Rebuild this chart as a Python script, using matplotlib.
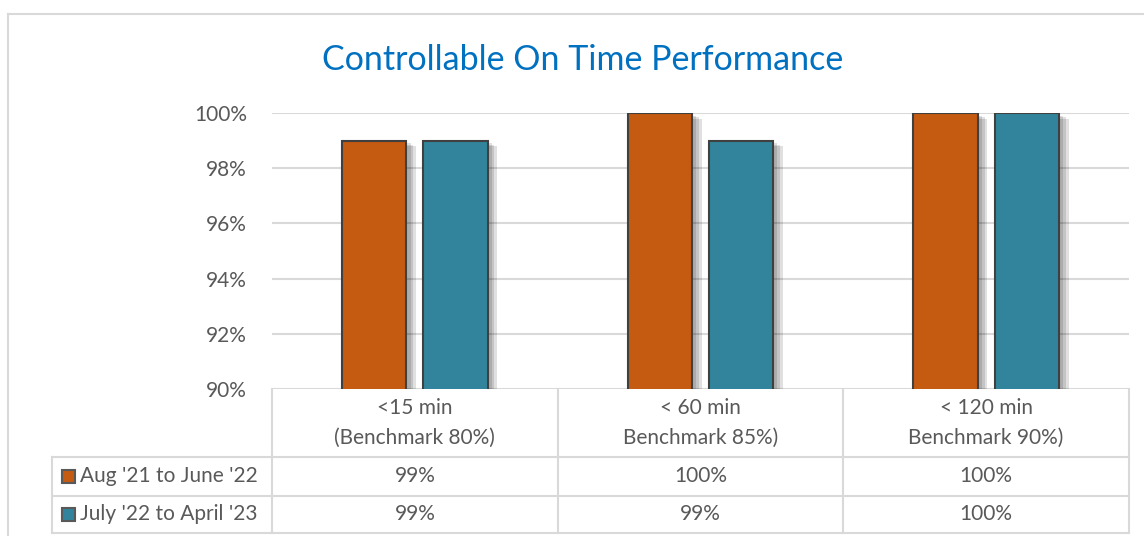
import matplotlib.pyplot as plt
import matplotlib.patheffects as pe
from matplotlib.patches import Rectangle
from matplotlib.lines import Line2D
from matplotlib.transforms import blended_transform_factory

plt.rcParams['font.family'] = ['Lato', 'DejaVu Sans']

categories = ["<15 min\n(Benchmark 80%)", "< 60 min\nBenchmark 85%)", "< 120 min\nBenchmark 90%)"]
series_names = ["Aug '21 to June '22", "July '22 to April '23"]
aug_21 = [99, 100, 100]
july_22 = [99, 99, 100]
colors = ["#C55A11", "#31849B"]

W, H = 1144, 536
fig = plt.figure(figsize=(W / 100, H / 100), dpi=100)

# outer frame of the chart
fig.add_artist(Line2D([8 / W, 8 / W], [0, 1 - 14 / H], color="#d9d9d9", lw=1.5))
fig.add_artist(Line2D([8 / W, 1], [1 - 14 / H, 1 - 14 / H], color="#d9d9d9", lw=1.5))

left, right, top, bottom = 272, 1129, 113, 389
ax = fig.add_axes([left / W, 1 - bottom / H, (right - left) / W, (bottom - top) / H])

text_col = "#595959"
grid_col = "#d9d9d9"
width = 0.225
offsets = [-0.142, 0.142]
# soft shadow, a few faint layers
shadow = [pe.SimplePatchShadow(offset=(o, -o * 0.6), shadow_rgbFace="#000000", alpha=0.12)
          for o in (7, 5, 3)] + [pe.Normal()]
for vals, off, c in zip([aug_21, july_22], offsets, colors):
    xs = [i + off for i in range(len(vals))]
    bars = ax.bar(xs, vals, width=width, bottom=0, color=c, edgecolor="#404040", linewidth=1.5, zorder=3)
    for b in bars:
        b.set_path_effects(shadow)

ax.set_ylim(90, 100)
ax.set_xlim(-0.5, 2.5)
ax.set_yticks([90, 92, 94, 96, 98, 100])
ax.set_yticklabels([f"{v}%" for v in [90, 92, 94, 96, 98, 100]], fontsize=15, color=text_col)
ax.tick_params(axis="y", length=0, pad=18)
ax.set_xticks([])
ax.grid(axis="y", color=grid_col, lw=1.5, zorder=0)
for s in ax.spines.values():
    s.set_visible(False)

fig.text(583 / W, 1 - 60 / H, "Controllable On Time Performance", ha="center", va="center",
         fontsize=24.5, color="#0070C0")

# data table under the axis
tr = blended_transform_factory(ax.transData, fig.transFigure)
fy = lambda p: 1 - p / H
row_lines = [457, 496, 533]
for y in row_lines:
    fig.add_artist(Line2D([52 / W, right / W], [fy(y), fy(y)], color=grid_col, lw=1.5))
for x in [-0.5, 0.5, 1.5, 2.5]:
    fig.add_artist(Line2D([x, x], [fy(389), fy(533)], color=grid_col, lw=1.5, transform=tr))
fig.add_artist(Line2D([52 / W, 52 / W], [fy(457), fy(533)], color=grid_col, lw=1.5))

for i, cat in enumerate(categories):
    fig.text(i, fy(423), cat, transform=tr, ha="center", va="center", fontsize=15,
             color=text_col, linespacing=1.6)

for r, (name, vals, c) in enumerate(zip(series_names, [aug_21, july_22], colors)):
    yc = fy((row_lines[r] + row_lines[r + 1]) / 2)
    fig.add_artist(Rectangle((62 / W, yc - 6.5 / H), 13 / W, 13 / H, facecolor=c,
                             edgecolor="#595959", lw=1.5, transform=fig.transFigure))
    fig.text(80 / W, yc, name, ha="left", va="center", fontsize=15, color=text_col)
    for i, v in enumerate(vals):
        fig.text(i, yc, f"{v}%", transform=tr, ha="center", va="center", fontsize=15, color=text_col)

fig.savefig("out.png", dpi=100)
